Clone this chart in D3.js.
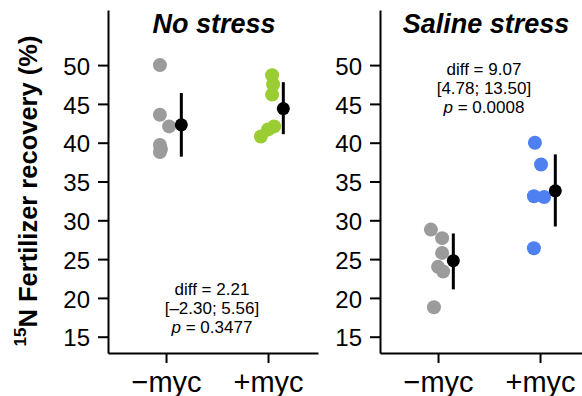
<!DOCTYPE html>
<html>
<head>
<meta charset="utf-8">
<script src="https://cdn.jsdelivr.net/npm/d3@7"></script>
<style>
	body { margin: 0; background: #fff; }
	text { font-family: "Liberation Sans", Arial, sans-serif; fill: #000; }
	.axis path, .axis line { stroke: #000; stroke-width: 2; }
	.ylab text { font-size: 24px; }
	.xlab text { font-size: 29px; }
	.title { font-size: 27px; font-weight: bold; font-style: italic; }
	.stat { font-size: 17px; }
</style>
</head>
<body>
<div id="chart"></div>
<script>
// panels and groups
var panels = ["No stress", "Saline stress"]
var groups = ["\u2212myc", "+myc"]
var yTicks = [15, 20, 25, 30, 35, 40, 45, 50]

// raw points (jitter is in group units)
var noStressMinus = [50.0, 43.6, 42.1, 39.7, 39.2, 38.8]
var noStressMinusJitter = [-0.06, -0.06, 0.03, -0.06, -0.05, -0.06]
var noStressPlus = [48.7, 47.5, 46.2, 42.1, 41.7, 40.8]
var noStressPlusJitter = [0.04, 0.05, 0.04, 0.06, 0.0, -0.07]
var salineMinus = [28.8, 27.7, 25.8, 24.0, 23.4, 18.8]
var salineMinusJitter = [-0.07, 0.04, 0.04, 0.0, 0.05, -0.04]
var salinePlus = [40.0, 37.2, 33.1, 33.0, 26.4]
var salinePlusJitter = [-0.05, 0.01, -0.06, 0.04, -0.06]

// group means with intervals
var noStressMean = [42.3, 44.4]
var noStressLow = [38.2, 41.1]
var noStressHigh = [46.4, 47.8]
var salineMean = [24.8, 33.8]
var salineLow = [21.1, 29.2]
var salineHigh = [28.3, 38.5]

// stats text
var noStressStats = ["diff = 2.21", "[\u20132.30; 5.56]", "0.3477"]
var salineStats = ["diff = 9.07", "[4.78; 13.50]", "0.0008"]

var WIDTH = 582, HEIGHT = 396
var PANEL_W = 210
var TOP = 10, BOTTOM = 353
var DOT_R = 7

var colors = {
	minus: "#9b9b9b",
	noStressPlus: "#9acd32",
	salinePlus: "#4f80f2"
}

var panelData = [
	{
		title: panels[0], x0: 108,
		points: [
			{ g: 0, vals: noStressMinus, jit: noStressMinusJitter, color: colors.minus },
			{ g: 1, vals: noStressPlus, jit: noStressPlusJitter, color: colors.noStressPlus }
		],
		mean: noStressMean, low: noStressLow, high: noStressHigh,
		stats: noStressStats, statY: 295
	},
	{
		title: panels[1], x0: 380,
		points: [
			{ g: 0, vals: salineMinus, jit: salineMinusJitter, color: colors.minus },
			{ g: 1, vals: salinePlus, jit: salinePlusJitter, color: colors.salinePlus }
		],
		mean: salineMean, low: salineLow, high: salineHigh,
		stats: salineStats, statY: 75
	}
]

var svg = d3.select("#chart").append("svg")
	.attr("width", WIDTH)
	.attr("height", HEIGHT)

var y = d3.scaleLinear()
	.domain([12.9, 57.1])
	.range([BOTTOM, TOP])

var x = d3.scaleLinear()
	.domain([-0.569, 1.49])
	.range([0, PANEL_W])

// y axis title
var ylab = svg.append("text")
	.attr("transform", "translate(33,191) rotate(-90)")
	.attr("text-anchor", "middle")
	.style("font-size", "25.5px")
	.style("font-weight", "bold")

ylab.append("tspan")
	.attr("dy", "-0.42em")
	.style("font-size", "17px")
	.text("15")
ylab.append("tspan")
	.attr("dy", "0.42em")
	.text("N Fertilizer recovery (%)")

panelData.forEach(function(p){
	var g = svg.append("g")
		.attr("transform", "translate(" + p.x0 + ",0)")

	g.append("g")
		.attr("class", "axis ylab")
		.call(d3.axisLeft(y).tickValues(yTicks).tickSize(10).tickSizeOuter(0).tickPadding(8))
		.selectAll("text").attr("dy", "0.38em")

	g.append("g")
		.attr("class", "axis xlab")
		.attr("transform", "translate(0," + BOTTOM + ")")
		.call(d3.axisBottom(x).tickValues([0, 1]).tickSize(10).tickSizeOuter(0).tickPadding(6)
			.tickFormat(function(d){ return groups[d] }))
		.selectAll("text").attr("dy", "0.8em")

	g.append("text")
		.attr("class", "title")
		.attr("x", x(0.47))
		.attr("y", 33)
		.attr("text-anchor", "middle")
		.text(p.title)

	p.points.forEach(function(s){
		g.selectAll(null)
			.data(s.vals)
			.enter()
			.append("circle")
			.attr("cx", function(d, i){ return x(s.g + s.jit[i]) })
			.attr("cy", function(d){ return y(d) })
			.attr("r", DOT_R)
			.attr("fill", s.color)
	})

	var idx = [0, 1]
	g.selectAll(null)
		.data(idx)
		.enter()
		.append("line")
		.attr("x1", function(d){ return x(d + 0.15) })
		.attr("x2", function(d){ return x(d + 0.15) })
		.attr("y1", function(d){ return y(p.low[d]) })
		.attr("y2", function(d){ return y(p.high[d]) })
		.attr("stroke", "#000")
		.attr("stroke-width", 3)

	g.selectAll(null)
		.data(idx)
		.enter()
		.append("circle")
		.attr("cx", function(d){ return x(d + 0.15) })
		.attr("cy", function(d){ return y(p.mean[d]) })
		.attr("r", 6.5)
		.attr("fill", "#000")

	var cx = x(0.45)
	g.append("text").attr("class", "stat")
		.attr("x", cx).attr("y", p.statY).attr("text-anchor", "middle")
		.text(p.stats[0])
	g.append("text").attr("class", "stat")
		.attr("x", cx).attr("y", p.statY + 19).attr("text-anchor", "middle")
		.text(p.stats[1])
	var pt = g.append("text").attr("class", "stat")
		.attr("x", cx).attr("y", p.statY + 38).attr("text-anchor", "middle")
	pt.append("tspan").style("font-style", "italic").text("p")
	pt.append("tspan").text(" = " + p.stats[2])
})
</script>
</body>
</html>
